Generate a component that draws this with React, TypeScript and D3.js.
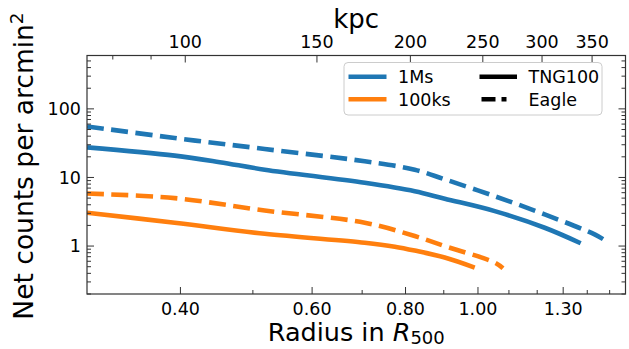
import React from "react";
import * as d3 from "d3";

// ---- data (radius in R500, net counts per arcmin^2) ----
const tng1MsR = [0.30, 0.393, 0.4515, 0.5185, 0.7056, 0.8229, 0.9026, 1.053, 1.228, 1.372];
const tng1MsV = [27.5, 20.8, 16.7, 13.0, 8.35, 6.3, 4.9, 3.23, 1.85, 1.1];

const eagle1MsR = [0.30, 0.393, 0.5185, 0.7056, 0.8229, 0.9026, 1.053, 1.228, 1.432, 1.492];
const eagle1MsV = [55.5, 37.6, 26.0, 17.2, 13.0, 9.4, 5.33, 2.89, 1.48, 1.14];

const tng100ksR = [0.30, 0.393, 0.5185, 0.7056, 0.774, 0.8229, 0.9026, 0.99];
const tng100ksV = [3.06, 2.19, 1.51, 1.12, 0.98, 0.86, 0.68, 0.485];

const eagle100ksR = [0.30, 0.393, 0.5185, 0.7056, 0.8229, 0.9026, 1.053, 1.08];
const eagle100ksV = [5.83, 5.0, 3.3, 2.19, 1.40, 1.0, 0.574, 0.474];

const xMajorTicks = [0.4, 0.6, 0.8, 1.0, 1.3];
const xMinorTicks = [0.5, 0.7, 0.9, 1.1, 1.2, 1.4, 1.5];
const topMajorTicks = [100, 150, 200, 250, 300, 350];
const topMinorTicks = [80, 90];
const yMajorTicks = [1, 10, 100];
const yMinorTicks = [
  0.2, 0.3, 0.4, 0.5, 0.6, 0.7, 0.8, 0.9,
  2, 3, 4, 5, 6, 7, 8, 9,
  20, 30, 40, 50, 60, 70, 80, 90,
  200, 300, 400, 500,
];
const R500kpc = 246.3;

const seriesNames = ["1Ms", "100ks"];
const simNames = ["TNG100", "Eagle"];

const W = 629;
const H = 349;
const L = 87;
const Rt = 625.5;
const T = 55.5;
const B = 294;
const FONT = "DejaVu Sans, sans-serif";
const BLUE = "#1f77b4";
const ORANGE = "#ff7f0e";
const DASH = "17,7.5";
const LW = 4.6;

export default function App() {
  const x = d3.scaleLog().domain([0.3, 1.575]).range([L, Rt]);
  const xTop = d3.scaleLog().domain([0.3 * R500kpc, 1.575 * R500kpc]).range([L, Rt]);
  const y = d3.scaleLog().domain([0.2, 600]).range([B, T]);

  const line = d3
    .line<[number, number]>()
    .x((d) => x(d[0]))
    .y((d) => y(d[1]))
    .curve(d3.curveCatmullRom.alpha(0.5));

  const mk = (rs: number[], vs: number[]) => line(rs.map((r, i) => [r, vs[i]] as [number, number])) || "";

  const curves = [
    { d: mk(tng1MsR, tng1MsV), c: BLUE, dash: undefined },
    { d: mk(eagle1MsR, eagle1MsV), c: BLUE, dash: DASH },
    { d: mk(tng100ksR, tng100ksV), c: ORANGE, dash: undefined },
    { d: mk(eagle100ksR, eagle100ksV), c: ORANGE, dash: DASH },
  ];

  const axisColor = "#333";
  const majLen = 7;
  const minLen = 4;

  return (
    <svg width={W} height={H} style={{ position: "absolute", left: 0, top: 0, background: "#fff" }} fontFamily={FONT}>
      <defs>
        <clipPath id="plotclip">
          <rect x={L} y={T} width={Rt - L} height={B - T} />
        </clipPath>
      </defs>
      <rect x={0} y={0} width={W} height={H} fill="#fff" />

      {/* curves */}
      <g clipPath="url(#plotclip)">
        {curves.map((c, i) => (
          <path
            key={i}
            d={c.d}
            fill="none"
            stroke={c.c}
            strokeWidth={LW}
            strokeDasharray={c.dash}
            strokeLinecap="butt"
            strokeLinejoin="round"
          />
        ))}
      </g>

      {/* ticks */}
      <g stroke={axisColor} strokeWidth={1}>
        {xMajorTicks.map((t) => (
          <line key={"xb" + t} x1={x(t)} x2={x(t)} y1={B} y2={B - majLen} />
        ))}
        {xMinorTicks.map((t) => (
          <line key={"xbm" + t} x1={x(t)} x2={x(t)} y1={B} y2={B - minLen} />
        ))}
        {topMajorTicks.map((t) => (
          <line key={"xt" + t} x1={xTop(t)} x2={xTop(t)} y1={T} y2={T + majLen} />
        ))}
        {topMinorTicks.map((t) => (
          <line key={"xtm" + t} x1={xTop(t)} x2={xTop(t)} y1={T} y2={T + minLen} />
        ))}
        {yMajorTicks.map((t) => (
          <g key={"y" + t}>
            <line x1={L} x2={L + majLen} y1={y(t)} y2={y(t)} />
            <line x1={Rt} x2={Rt - majLen} y1={y(t)} y2={y(t)} />
          </g>
        ))}
        {yMinorTicks.map((t) => (
          <g key={"ym" + t}>
            <line x1={L} x2={L + minLen} y1={y(t)} y2={y(t)} />
            <line x1={Rt} x2={Rt - minLen} y1={y(t)} y2={y(t)} />
          </g>
        ))}
      </g>

      {/* frame */}
      <rect x={L} y={T} width={Rt - L} height={B - T} fill="none" stroke={axisColor} strokeWidth={1.2} />

      {/* tick labels */}
      <g fontSize={17.5} fill="#000">
        {xMajorTicks.map((t) => (
          <text key={"xl" + t} x={x(t)} y={314.5} textAnchor="middle">
            {t.toFixed(2)}
          </text>
        ))}
        {topMajorTicks.map((t) => (
          <text key={"tl" + t} x={xTop(t)} y={48} textAnchor="middle">
            {t}
          </text>
        ))}
        {yMajorTicks.map((t) => (
          <text key={"yl" + t} x={L - 6} y={y(t) + 6.3} textAnchor="end">
            {t}
          </text>
        ))}
      </g>

      {/* axis labels */}
      <text x={(L + Rt) / 2} y={28} textAnchor="middle" fontSize={26}>
        kpc
      </text>
      <text x={(L + Rt) / 2} y={341} textAnchor="middle" fontSize={25.5}>
        Radius in <tspan fontStyle="italic">R</tspan>
        <tspan fontSize={18} dy={3}>500</tspan>
      </text>
      <text transform={`translate(33, 166) rotate(-90)`} textAnchor="middle" fontSize={26.5}>
        Net counts per arcmin
        <tspan fontSize={18.5} dy={-10.5}>2</tspan>
      </text>

      {/* legend */}
      <g>
        <rect x={344} y={62.5} width={258} height={52.5} rx={4} fill="#fff" fillOpacity={0.85} stroke="#ccc" strokeWidth={1} />
        {seriesNames.map((s, i) => (
          <g key={s}>
            <line x1={348.5} x2={386.5} y1={76.7 + i * 22.6} y2={76.7 + i * 22.6} stroke={i === 0 ? BLUE : ORANGE} strokeWidth={LW} />
            <text x={398} y={76.7 + i * 22.6 + 6.3} fontSize={17.5}>
              {s}
            </text>
          </g>
        ))}
        {simNames.map((s, i) => (
          <g key={s}>
            <line
              x1={479.5}
              x2={517}
              y1={76.7 + i * 22.6}
              y2={76.7 + i * 22.6}
              stroke="#000"
              strokeWidth={LW}
              strokeDasharray={i === 1 ? "14,6,5,20" : undefined}
              strokeDashoffset={i === 1 ? -2 : undefined}
            />
            <text x={528.5} y={76.7 + i * 22.6 + 6.3} fontSize={17.5}>
              {s}
            </text>
          </g>
        ))}
      </g>
    </svg>
  );
}
